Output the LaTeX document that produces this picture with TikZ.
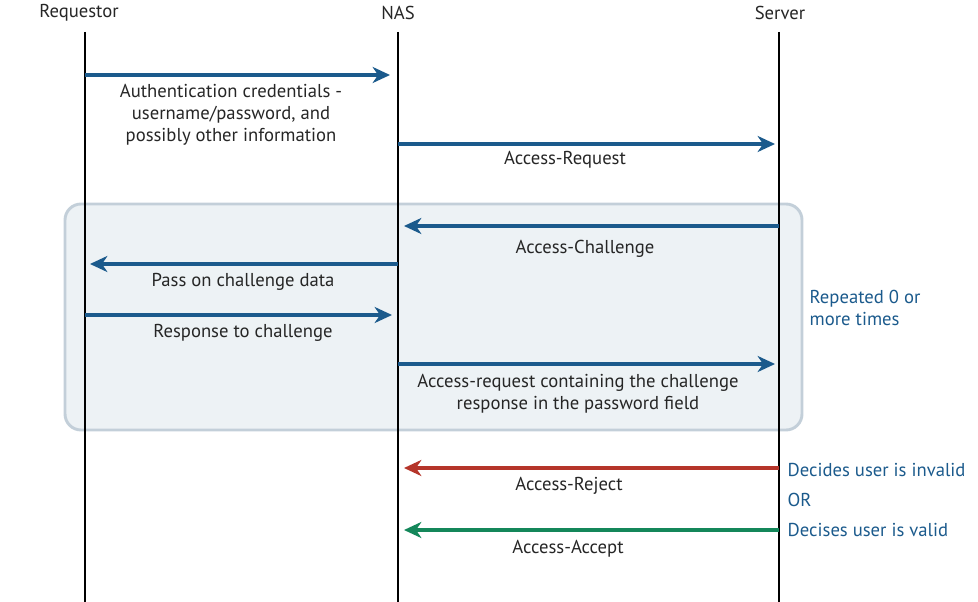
\documentclass[tikz,border=0pt]{standalone}
\usepackage{fontspec}
\setmainfont{PT Sans}
\usetikzlibrary{arrows.meta}

\definecolor{msgblue}{HTML}{1B5A8C}
\definecolor{msgred}{HTML}{B5352A}
\definecolor{msggreen}{HTML}{14875A}
\definecolor{loopfill}{HTML}{EDF2F5}
\definecolor{loopline}{HTML}{C3CFD9}

\tikzset{
  lifeline/.style={line width=2.2pt,black},
  msg/.style={line width=2.4pt,-{Stealth[length=13pt,width=12pt,inset=4pt]}},
  msglabel/.style={font=\fontsize{14}{16.5}\selectfont,align=center,text=black!85},
  note/.style={font=\fontsize{14}{16.5}\selectfont,align=left,text=msgblue,anchor=west}
}

\begin{document}
\begin{tikzpicture}[x=0.75pt,y=-0.75pt]
\useasboundingbox (0,0) rectangle (978,602);
% repeated block
\draw[loopline,fill=loopfill,line width=2.2pt,rounded corners=12pt] (65,204) rectangle (802,430);
% parties
\node[msglabel] (req) at (79,13) {Requestor};
\node[msglabel] (nas) at (398,13) {NAS};
\node[msglabel] (srv) at (780,13) {Server};
\coordinate (reqtop) at (85,32);
\coordinate (reqend) at (85,602);
\coordinate (nastop) at (398,32);
\coordinate (nasend) at (398,602);
\coordinate (srvtop) at (779,32);
\coordinate (srvend) at (779,602);
\draw[lifeline] (reqtop)--(reqend);
\draw[lifeline] (nastop)--(nasend);
\draw[lifeline] (srvtop)--(srvend);
% messages
\coordinate (m1a) at (85,75);   \coordinate (m1b) at (390,75);
\coordinate (m2a) at (398,144); \coordinate (m2b) at (775,144);
\coordinate (m3a) at (779,226); \coordinate (m3b) at (404,226);
\coordinate (m4a) at (398,264); \coordinate (m4b) at (90,264);
\coordinate (m5a) at (85,315);  \coordinate (m5b) at (392,315);
\coordinate (m6a) at (398,364); \coordinate (m6b) at (775,364);
\coordinate (m7a) at (779,468); \coordinate (m7b) at (404,468);
\coordinate (m8a) at (779,530); \coordinate (m8b) at (404,530);
\draw[msg,msgblue] (m1a)--(m1b);
\draw[msg,msgblue] (m2a)--(m2b);
\draw[msg,msgblue] (m3a)--(m3b);
\draw[msg,msgblue] (m4a)--(m4b);
\draw[msg,msgblue] (m5a)--(m5b);
\draw[msg,msgblue] (m6a)--(m6b);
\draw[msg,msgred] (m7a)--(m7b);
\draw[msg,msggreen] (m8a)--(m8b);
% labels
\node[msglabel] (l1) at (231,115) {Authentication credentials -\\username/password, and\\possibly other information};
\node[msglabel] (l2) at (565,160) {Access-Request};
\node[msglabel] (l3) at (585,249) {Access-Challenge};
\node[msglabel] (l4) at (243,282) {Pass on challenge data};
\node[msglabel] (l5) at (243,333) {Response to challenge};
\node[msglabel] (l6) at (578,394) {Access-request containing the challenge\\response in the password field};
\node[msglabel] (l7) at (569,486) {Access-Reject};
\node[msglabel] (l8) at (568,549) {Access-Accept};
% notes on the right
\node[note] (rep) at (805,308) {Repeated 0 or\\more times};
\node[note] (inv) at (783,470) {Decides user is invalid};
\node[note] (or) at (783,500) {OR};
\node[note] (val) at (783,530) {Decises user is valid};
\end{tikzpicture}
\end{document}
